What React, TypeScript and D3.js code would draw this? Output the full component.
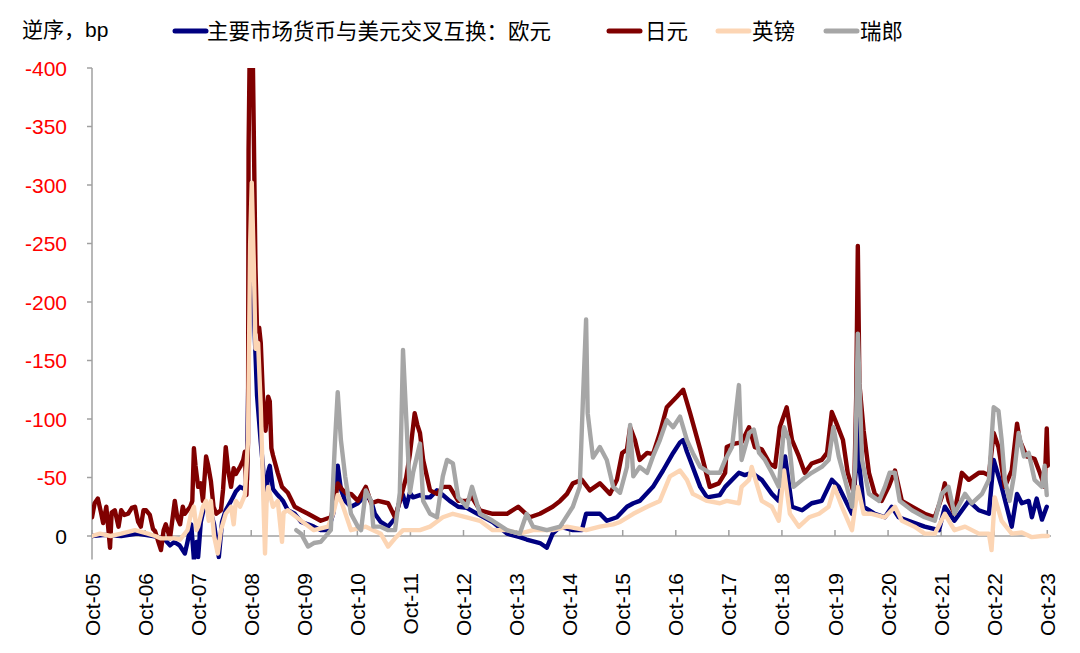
import React from "react";
import * as d3 from "d3";

// ---- data (time as decimal year, value in bp) ----
const seriesNames = ["主要市场货币与美元交叉互换：欧元", "日元", "英镑", "瑞郎"];
const seriesColors = ["#000080", "#800000", "#FCD5B4", "#A6A6A6"];

const euroData: [number, number][] = [
  [2005.75, 0], [2006.0, -1], [2006.3, 0], [2006.6, -2], [2006.9, 0], [2007.1, 2], [2007.22, 8], [2007.3, 5],
  [2007.4, 8], [2007.5, 15], [2007.55, 5], [2007.62, -10], [2007.67, 20], [2007.72, 5], [2007.75, 18], [2007.8, -12],
  [2007.84, -20], [2007.9, -28], [2007.99, -20], [2008.05, -10], [2008.14, 18], [2008.2, -12], [2008.27, -22],
  [2008.37, -30], [2008.46, -38], [2008.54, -42], [2008.63, -40], [2008.67, -48], [2008.7, -150], [2008.73, -240],
  [2008.78, -250], [2008.81, -180], [2008.86, -120], [2008.93, -80], [2008.97, -60], [2009.02, -25], [2009.07, -55],
  [2009.1, -60], [2009.16, -40], [2009.25, -35], [2009.35, -30], [2009.44, -22], [2009.57, -19], [2009.69, -12],
  [2009.82, -10], [2009.93, -8], [2010.06, -5], [2010.2, -5], [2010.3, -20], [2010.38, -60], [2010.44, -40],
  [2010.52, -30], [2010.63, -25], [2010.76, -28], [2010.91, -35], [2011.01, -30], [2011.08, -19], [2011.19, -12],
  [2011.33, -8], [2011.46, -15], [2011.55, -30], [2011.61, -35], [2011.67, -25], [2011.74, -37], [2011.8, -33],
  [2011.93, -35], [2012.02, -33], [2012.12, -33], [2012.25, -39], [2012.36, -35], [2012.49, -30], [2012.65, -25],
  [2012.81, -24], [2012.97, -20], [2013.3, -12], [2013.57, -2], [2013.81, 1], [2013.94, 3], [2014.19, 6],
  [2014.32, 10], [2014.43, -2], [2014.57, -8], [2014.81, -5], [2014.98, -5], [2015.06, -19], [2015.32, -19],
  [2015.45, -13], [2015.64, -16], [2015.83, -25], [2015.95, -28], [2016.07, -30], [2016.32, -42], [2016.51, -56],
  [2016.7, -71], [2016.83, -80], [2016.89, -82], [2016.96, -72], [2017.02, -65], [2017.21, -42], [2017.34, -33],
  [2017.58, -35], [2017.68, -42], [2017.94, -54], [2018.05, -52], [2018.18, -54], [2018.37, -48], [2018.56, -36],
  [2018.69, -30], [2018.81, -68], [2018.94, -25], [2019.13, -22], [2019.31, -28], [2019.5, -30], [2019.69, -48],
  [2019.82, -42], [2019.92, -33], [2020.07, -19], [2020.15, -60], [2020.18, -120], [2020.21, -60], [2020.29, -25],
  [2020.5, -19], [2020.69, -16], [2020.82, -25], [2020.95, -16], [2021.2, -12], [2021.44, -8], [2021.71, -5],
  [2021.82, -25], [2022.0, -13], [2022.27, -30], [2022.46, -22], [2022.65, -19], [2022.74, -65], [2022.89, -42],
  [2023.08, -8], [2023.18, -36], [2023.27, -28], [2023.4, -30], [2023.46, -16], [2023.55, -32], [2023.65, -14],
  [2023.74, -25],
];

const yenData: [number, number][] = [
  [2005.75, -16], [2005.8, -28], [2005.86, -32], [2005.92, -20], [2005.96, -11], [2006.02, -25], [2006.09, 10],
  [2006.12, -20], [2006.18, -22], [2006.25, -8], [2006.3, -22], [2006.36, -18], [2006.43, -19], [2006.5, -24],
  [2006.56, -25], [2006.62, -12], [2006.67, -8], [2006.72, -22], [2006.77, -22], [2006.84, -18], [2006.9, -6],
  [2006.94, -4], [2007.0, 5], [2007.05, 12], [2007.1, -5], [2007.14, -10], [2007.22, 2], [2007.31, -30],
  [2007.36, -15], [2007.41, -10], [2007.46, -25], [2007.5, -19], [2007.6, -25], [2007.64, -30], [2007.67, -75],
  [2007.7, -60], [2007.75, -42], [2007.8, -45], [2007.84, -30], [2007.9, -68], [2007.94, -60], [2007.99, -47],
  [2008.04, -25], [2008.09, -19], [2008.18, -22], [2008.22, -40], [2008.27, -76], [2008.32, -55], [2008.37, -42],
  [2008.42, -58], [2008.46, -53], [2008.54, -59], [2008.6, -65], [2008.63, -72], [2008.66, -35], [2008.69, -80],
  [2008.7, -330], [2008.72, -410], [2008.78, -410], [2008.8, -340], [2008.83, -230], [2008.86, -175],
  [2008.9, -178], [2008.93, -165], [2008.97, -120], [2009.02, -90], [2009.07, -119], [2009.1, -115],
  [2009.13, -75], [2009.16, -69], [2009.25, -54], [2009.33, -42], [2009.44, -37], [2009.57, -25], [2009.69, -22],
  [2009.82, -19], [2010.06, -13], [2010.25, -16], [2010.33, -30], [2010.38, -45], [2010.46, -40], [2010.55, -36],
  [2010.63, -36], [2010.76, -30], [2010.91, -42], [2011.01, -28], [2011.14, -30], [2011.33, -28], [2011.46, -16],
  [2011.55, -30], [2011.61, -40], [2011.67, -50], [2011.74, -70], [2011.83, -105], [2011.88, -95], [2011.93, -88],
  [2011.99, -65], [2012.02, -59], [2012.12, -39], [2012.25, -36], [2012.36, -42], [2012.49, -42], [2012.65, -30],
  [2012.81, -30], [2012.91, -33], [2013.06, -22], [2013.3, -19], [2013.57, -19], [2013.78, -25], [2014.0, -16],
  [2014.19, -19], [2014.43, -25], [2014.57, -30], [2014.7, -36], [2014.81, -45], [2014.98, -48], [2015.13, -39],
  [2015.32, -45], [2015.51, -36], [2015.64, -48], [2015.74, -71], [2015.83, -74], [2015.89, -93], [2015.98, -82],
  [2016.07, -65], [2016.21, -71], [2016.32, -70], [2016.45, -88], [2016.58, -110], [2016.77, -119],
  [2016.89, -125], [2017.02, -105], [2017.21, -74], [2017.39, -42], [2017.56, -45], [2017.68, -54], [2017.71, -76],
  [2017.86, -79], [2017.99, -80], [2018.13, -93], [2018.24, -76], [2018.37, -74], [2018.52, -62], [2018.62, -59],
  [2018.71, -93], [2018.84, -110], [2018.94, -82], [2019.07, -68], [2019.18, -54], [2019.31, -62], [2019.5, -65],
  [2019.6, -71], [2019.69, -106], [2019.78, -96], [2019.9, -82], [2019.99, -54], [2020.11, -36], [2020.15, -120],
  [2020.18, -248], [2020.21, -130], [2020.29, -90], [2020.39, -54], [2020.5, -36], [2020.63, -30], [2020.76, -42],
  [2020.88, -56], [2021.01, -30], [2021.2, -25], [2021.44, -19], [2021.63, -16], [2021.76, -33], [2021.82, -45],
  [2021.89, -30], [2022.0, -19], [2022.14, -54], [2022.27, -48], [2022.46, -54], [2022.55, -54], [2022.65, -52],
  [2022.74, -88], [2022.83, -76], [2022.95, -42], [2023.08, -56], [2023.18, -96], [2023.23, -82], [2023.36, -68],
  [2023.51, -66], [2023.61, -54], [2023.7, -42], [2023.74, -92], [2023.76, -60],
];

const gbpData: [number, number][] = [
  [2005.75, 0], [2005.9, -2], [2006.1, 0], [2006.3, -2], [2006.56, -5], [2006.8, -2], [2006.94, 0], [2007.05, 2],
  [2007.3, 2], [2007.41, 3], [2007.55, -5], [2007.62, -20], [2007.67, -25], [2007.72, -5], [2007.75, -8],
  [2007.84, -25], [2007.9, -30], [2007.95, -13], [2007.99, -30], [2008.05, 0], [2008.12, 15], [2008.18, -5],
  [2008.27, -19], [2008.37, -25], [2008.42, -10], [2008.46, -30], [2008.54, -25], [2008.63, -35], [2008.69, -82],
  [2008.73, -250], [2008.76, -302], [2008.8, -230], [2008.83, -160], [2008.88, -165], [2008.93, -110],
  [2008.98, -30], [2009.01, 15], [2009.04, -30], [2009.07, -42], [2009.16, -25], [2009.25, -30], [2009.33, 5],
  [2009.36, -20], [2009.44, -22], [2009.69, -13], [2009.93, -5], [2010.2, -8], [2010.3, -20], [2010.38, -35],
  [2010.46, -28], [2010.63, -5], [2010.91, -8], [2011.19, -2], [2011.33, 9], [2011.46, 2], [2011.61, -5],
  [2011.74, -5], [2011.93, -5], [2012.12, -8], [2012.36, -16], [2012.55, -19], [2012.81, -16], [2013.06, -13],
  [2013.3, -5], [2013.57, -5], [2013.81, -2], [2014.06, -5], [2014.43, -5], [2014.7, -8], [2015.06, -5],
  [2015.32, -8], [2015.57, -10], [2015.7, -12], [2015.95, -19], [2016.21, -25], [2016.45, -30], [2016.64, -51],
  [2016.83, -56], [2016.96, -48], [2017.07, -36], [2017.34, -30], [2017.58, -28], [2017.71, -30], [2017.94, -28],
  [2017.99, -42], [2018.13, -48], [2018.18, -59], [2018.37, -30], [2018.56, -25], [2018.69, -13], [2018.79, -56],
  [2018.9, -19], [2019.07, -8], [2019.26, -16], [2019.45, -19], [2019.63, -25], [2019.74, -42], [2019.88, -25],
  [2020.07, -5], [2020.18, -42], [2020.29, -19], [2020.44, -19], [2020.69, -16], [2020.88, -25], [2021.01, -13],
  [2021.25, -8], [2021.44, -2], [2021.63, -2], [2021.82, -19], [2022.0, -5], [2022.2, -8], [2022.46, -2],
  [2022.65, -2], [2022.7, 12], [2022.76, -33], [2022.89, -13], [2023.08, -2], [2023.27, -3], [2023.46, 1],
  [2023.65, 0], [2023.76, 0],
];

const chfData: [number, number][] = [
  [2009.6, -5], [2009.69, -2], [2009.82, 9], [2009.93, 6], [2010.06, 5], [2010.25, -5], [2010.33, -82],
  [2010.38, -123], [2010.44, -82], [2010.52, -51], [2010.63, -19], [2010.76, -8], [2010.82, -5], [2010.91, -39],
  [2011.01, -30], [2011.05, -8], [2011.19, -8], [2011.33, -5], [2011.46, -5], [2011.55, -37], [2011.61, -159],
  [2011.67, -102], [2011.74, -37], [2011.8, -54], [2011.93, -79], [2011.99, -30], [2012.12, -19], [2012.25, -16],
  [2012.36, -51], [2012.44, -65], [2012.55, -62], [2012.65, -33], [2012.81, -25], [2012.91, -42], [2013.06, -19],
  [2013.3, -13], [2013.57, -5], [2013.81, -2], [2013.94, -19], [2014.06, -8], [2014.32, -5], [2014.57, -8],
  [2014.81, -25], [2014.94, -42], [2015.0, -116], [2015.06, -185], [2015.09, -105], [2015.19, -67],
  [2015.32, -76], [2015.45, -65], [2015.57, -42], [2015.7, -37], [2015.83, -59], [2015.89, -95], [2015.95, -51],
  [2016.07, -59], [2016.21, -54], [2016.32, -68], [2016.45, -82], [2016.58, -99], [2016.7, -93], [2016.83, -102],
  [2016.96, -82], [2017.07, -71], [2017.21, -59], [2017.39, -54], [2017.58, -54], [2017.68, -65], [2017.81, -76],
  [2017.94, -129], [2017.99, -65], [2018.13, -88], [2018.22, -91], [2018.32, -71], [2018.43, -65], [2018.56, -54],
  [2018.69, -42], [2018.79, -93], [2018.88, -82], [2018.97, -42], [2019.13, -48], [2019.31, -54], [2019.5, -59],
  [2019.63, -65], [2019.72, -93], [2019.82, -68], [2019.94, -48], [2020.07, -25], [2020.13, -59], [2020.18, -173],
  [2020.26, -65], [2020.39, -36], [2020.58, -30], [2020.69, -42], [2020.78, -54], [2020.88, -54], [2020.97, -30],
  [2021.2, -22], [2021.44, -16], [2021.63, -13], [2021.76, -36], [2021.89, -42], [2022.0, -19], [2022.2, -36],
  [2022.33, -28], [2022.52, -36], [2022.65, -48], [2022.74, -110], [2022.83, -107], [2022.89, -82],
  [2022.95, -48], [2023.04, -30], [2023.12, -51], [2023.21, -88], [2023.31, -68], [2023.4, -71], [2023.51, -48],
  [2023.65, -42], [2023.7, -60], [2023.74, -35],
];

const xTickLabels = [
  "Oct-05", "Oct-06", "Oct-07", "Oct-08", "Oct-09", "Oct-10", "Oct-11", "Oct-12", "Oct-13", "Oct-14",
  "Oct-15", "Oct-16", "Oct-17", "Oct-18", "Oct-19", "Oct-20", "Oct-21", "Oct-22", "Oct-23",
];
const xTickValues = xTickLabels.map((_, i) => 2005.75 + i);
const yTickValues = [0, -50, -100, -150, -200, -250, -300, -350, -400];
const yAxisTitle = "逆序，bp";

const W = 1080;
const H = 653;
const LATIN = "'Liberation Sans', Arial, sans-serif";
const CJK = "'Liberation Sans', 'Noto Sans CJK SC', sans-serif";

export default function App() {
  const x = d3.scaleLinear().domain([2005.75, 2023.82]).range([92, 1051]);
  const y = d3.scaleLinear().domain([0, -400]).range([536, 68]);
  const yBottom = y(20);
  const line = d3
    .line<[number, number]>()
    .x((d) => x(d[0]))
    .y((d) => y(d[1]));
  const all = [euroData, yenData, gbpData, chfData];
  const axisColor = "#A0A0A0";

  const legendItems = [
    { sx: 175, tx: 207 },
    { sx: 609, tx: 645 },
    { sx: 718, tx: 752 },
    { sx: 826, tx: 860 },
  ];

  return (
    <svg width={W} height={H} style={{ display: "block", position: "absolute", left: 0, top: 0, background: "#fff" }}>
      <defs>
        <clipPath id="plotClip">
          <rect x={x.range()[0]} y={y(-400)} width={x.range()[1] - x.range()[0] + 4} height={yBottom - y(-400)} />
        </clipPath>
      </defs>
      <rect width={W} height={H} fill="#fff" />
      {/* title */}
      <text x={22} y={37} fontFamily={CJK} fontSize={21} fill="#000">
        {yAxisTitle}
      </text>
      {/* legend */}
      {seriesNames.map((n, i) => (
        <g key={n}>
          <line
            x1={legendItems[i].sx}
            x2={legendItems[i].sx + 31}
            y1={31}
            y2={31}
            stroke={seriesColors[i]}
            strokeWidth={5}
            strokeLinecap="round"
          />
          <text x={legendItems[i].tx} y={39} fontFamily={CJK} fontSize={21.5} fill="#000">
            {n}
          </text>
        </g>
      ))}
      {/* axes */}
      <line x1={x.range()[0]} x2={x.range()[0]} y1={y(-400)} y2={yBottom} stroke={axisColor} strokeWidth={1.5} />
      <line x1={x.range()[0]} x2={x.range()[1]} y1={y(0)} y2={y(0)} stroke={axisColor} strokeWidth={1.5} />
      {yTickValues.map((v) => (
        <g key={v}>
          <line x1={x.range()[0] - 5} x2={x.range()[0]} y1={y(v)} y2={y(v)} stroke={axisColor} strokeWidth={1.5} />
          <text
            x={67}
            y={y(v)}
            dy="0.36em"
            textAnchor="end"
            fontFamily={LATIN}
            fontSize={21}
            fill={v === 0 ? "#000" : "#FF0000"}
          >
            {v}
          </text>
        </g>
      ))}
      {xTickValues.map((v, i) => (
        <g key={v}>
          <line x1={x(v)} x2={x(v)} y1={y(0) - 6} y2={y(0)} stroke={axisColor} strokeWidth={1.5} />
          <text
            transform={`translate(${x(v)},${573}) rotate(-90)`}
            dy="0.36em"
            textAnchor="end"
            fontFamily={LATIN}
            fontSize={21}
            fill="#000"
          >
            {xTickLabels[i]}
          </text>
        </g>
      ))}
      {/* series */}
      <g clipPath="url(#plotClip)">
        {all.map((data, i) => (
          <path
            key={i}
            d={line(data) || ""}
            fill="none"
            stroke={seriesColors[i]}
            strokeWidth={4.4}
            strokeLinejoin="round"
            strokeLinecap="round"
          />
        ))}
      </g>
    </svg>
  );
}
